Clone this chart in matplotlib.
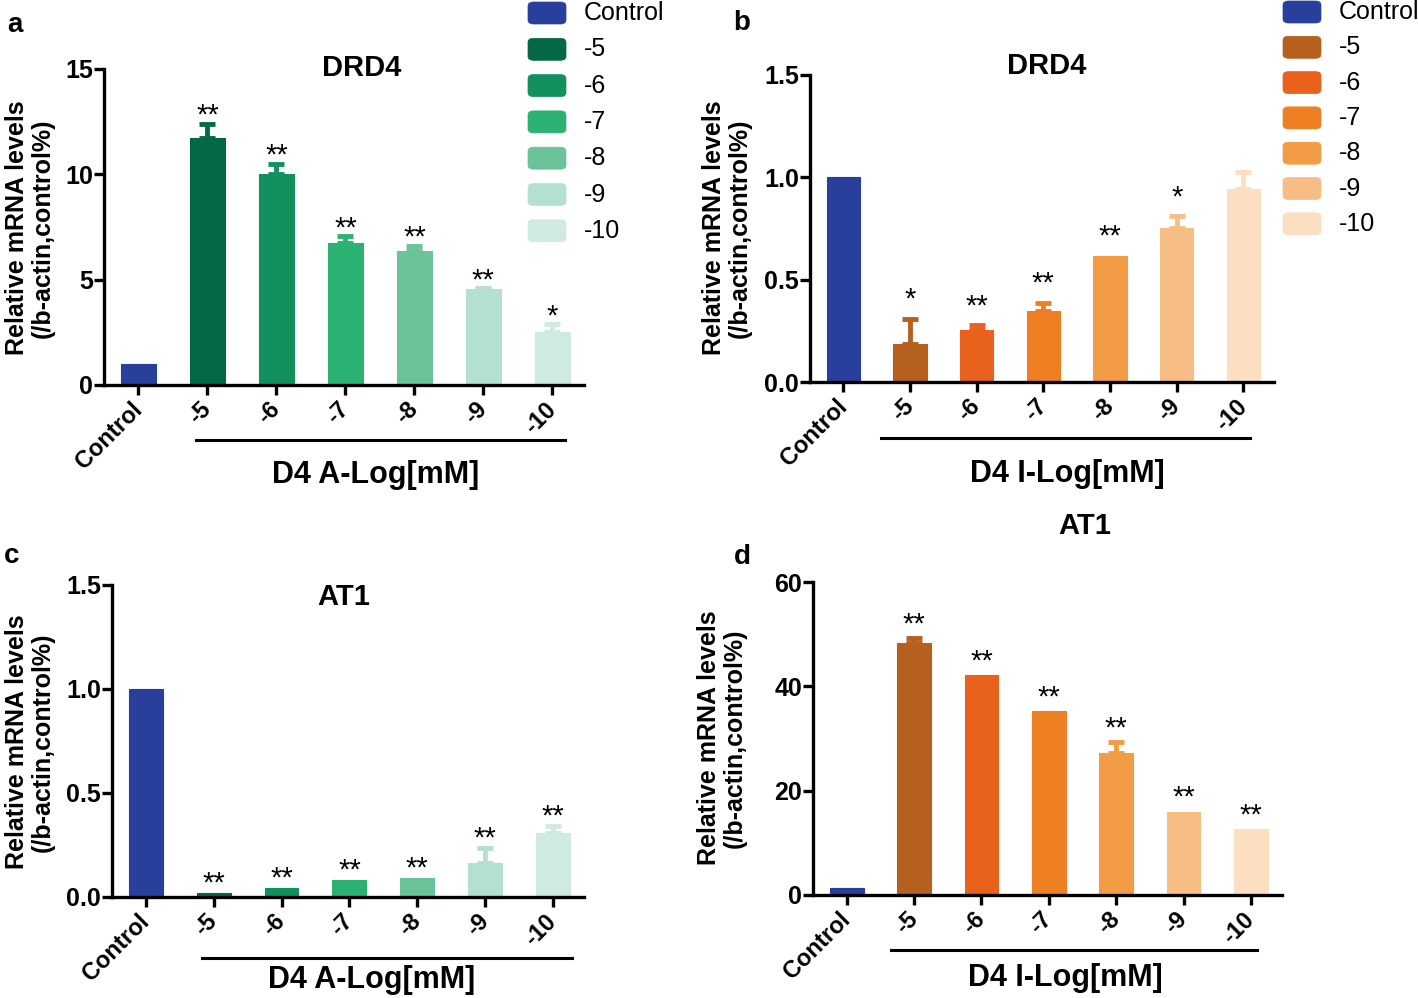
import numpy as np
import matplotlib
matplotlib.use("Agg")
import matplotlib.pyplot as plt
from matplotlib.patches import FancyBboxPatch

plt.rcParams['font.family'] = ['Liberation Sans', 'DejaVu Sans']

categories = ["Control", "-5", "-6", "-7", "-8", "-9", "-10"]

blue = "#283F9B"
greens = [blue, "#046845", "#12915E", "#2BB273", "#6BC399", "#B3E0D0", "#CFEADF"]
oranges = [blue, "#B6601F", "#E8611D", "#EE7F22", "#F39C46", "#F6BE85", "#FADFC0"]

# panel a: DRD4, D4 agonist
a_vals = [1.0, 11.73, 10.03, 6.74, 6.36, 4.56, 2.52]
a_err = [1.0, 12.39, 10.5, 7.06, 6.6, 4.6, 2.89]
a_stars = ["", "**", "**", "**", "**", "**", "*"]

# panel b: DRD4, D4 inhibitor
b_vals = [1.0, 0.188, 0.256, 0.346, 0.618, 0.753, 0.944]
b_err = [1.0, 0.308, 0.277, 0.386, 0.618, 0.81, 1.025]
b_stars = ["", "*", "**", "**", "**", "*", ""]

# panel c: AT1, D4 agonist
c_vals = [1.0, 0.02, 0.043, 0.08, 0.093, 0.165, 0.308]
c_err = [1.0, 0.02, 0.043, 0.08, 0.093, 0.236, 0.342]
c_stars = ["", "**", "**", "**", "**", "**", "**"]

# panel d: AT1, D4 inhibitor
d_vals = [1.3, 48.4, 42.2, 35.3, 27.2, 16.0, 12.6]
d_err = [1.3, 49.3, 42.2, 35.3, 29.3, 16.0, 12.6]
d_stars = ["", "**", "**", "**", "**", "**", "**"]

W, H = 1418, 998
fig = plt.figure(figsize=(W / 100, H / 100), dpi=100)


def px(x, y):
    return x / W, 1 - y / H


def panel(rect, vals, err, stars, colors, ymax, yticks, ytl, title, title_xy,
          xlabel, line_x, line_y, label_x, label_y, star_off):
    l, t, r, b = rect
    ax = fig.add_axes([l / W, 1 - b / H, (r - l) / W, (b - t) / H])
    x = np.arange(len(vals))
    ax.bar(x, vals, width=0.5, color=colors, edgecolor=colors, linewidth=0.8,
           zorder=2)
    for i in range(len(vals)):
        if err[i] > vals[i]:
            ax.errorbar(x[i], vals[i], yerr=[[0], [err[i] - vals[i]]],
                        fmt="none", ecolor=colors[i], elinewidth=3.5,
                        capsize=5.5, capthick=3.5, zorder=1)
    for i, s in enumerate(stars):
        if s:
            ax.annotate(s, (x[i], err[i]), xytext=(0, star_off),
                        textcoords="offset points", ha="center",
                        va="baseline", fontsize=21)
    ax.set_xlim(-0.5, 6.46)
    ax.set_ylim(0, ymax)
    ax.set_yticks(yticks)
    ax.set_yticklabels(ytl, fontsize=18, fontweight="bold")
    ax.set_xticks(x)
    ax.set_xticklabels(categories, rotation=45, ha="right", va="center",
                       rotation_mode="anchor", fontsize=17, fontweight="bold")
    for sp in ["top", "right"]:
        ax.spines[sp].set_visible(False)
    for sp in ["left", "bottom"]:
        ax.spines[sp].set_linewidth(2.4)
    ax.tick_params(width=2.4, length=7, pad=3)
    ax.tick_params(axis="x", pad=8)
    ax.tick_params(axis="y", pad=1)
    tr = ax.get_xaxis_transform()
    ax.plot(line_x, [line_y, line_y], color="black", lw=2.2,
            transform=tr, clip_on=False)
    ax.text(label_x, label_y, xlabel, transform=tr, ha="center", va="center",
            fontsize=22, fontweight="bold")
    fig.text(*px(*title_xy), title, ha="center", va="center",
             fontsize=21, fontweight="bold")
    return ax


def legend(x0, y0, step, colors):
    for i, (lab, c) in enumerate(zip(categories, colors)):
        cy = y0 + i * step
        bx, by = px(x0, cy + 11)
        p = FancyBboxPatch((bx, by), 38 / W, 22 / H,
                           boxstyle="round,pad=0,rounding_size=0.004",
                           transform=fig.transFigure, facecolor=c,
                           edgecolor=c, lw=0.5)
        fig.patches.append(p)
        fig.text(*px(x0 + 56, cy), lab, ha="left", va="center", fontsize=18)


def ylab(x, y):
    fig.text(*px(x, y), "Relative mRNA levels\n(/b-actin,control%)",
             rotation=90, ha="center", va="center", fontsize=18,
             fontweight="bold", linespacing=1.1)


panel((104, 69, 584, 385), a_vals, a_err, a_stars, greens, 15,
      [0, 5, 10, 15], ["0", "5", "10", "15"],
      "DRD4", (362, 68), "D4 A-Log[mM]", [0.83, 6.18], -0.174, 3.44, -0.285, 0)
panel((810, 75, 1274, 382), b_vals, b_err, b_stars, oranges, 1.5,
      [0, 0.5, 1.0, 1.5], ["0.0", "0.5", "1.0", "1.5"],
      "DRD4", (1047, 66), "D4 I-Log[mM]", [0.56, 6.1], -0.182, 3.36, -0.30, 8)
panel((112, 585, 584, 897), c_vals, c_err, c_stars, greens, 1.5,
      [0, 0.5, 1.0, 1.5], ["0.0", "0.5", "1.0", "1.5"],
      "AT1", (344, 597), "D4 A-Log[mM]", [0.83, 6.28], -0.196, 3.33, -0.266, 1)
panel((813, 582, 1282, 895), d_vals, d_err, d_stars, oranges, 60,
      [0, 20, 40, 60], ["0", "20", "40", "60"],
      "AT1", (1085, 526), "D4 I-Log[mM]", [0.66, 6.09], -0.176, 3.25, -0.265, 4)

ylab(30, 228)
ylab(727, 228)
ylab(30, 742)
ylab(722, 738)

legend(528, 13, 36.3, greens)
legend(1283, 12, 35.3, oranges)

for lab, (lx, ly) in zip("abcd", [(15, 25), (742, 23), (12, 556), (742, 557)]):
    fig.text(*px(lx, ly), lab, ha="center", va="center", fontsize=20,
             fontweight="bold")

fig.savefig("out.png", dpi=100)
